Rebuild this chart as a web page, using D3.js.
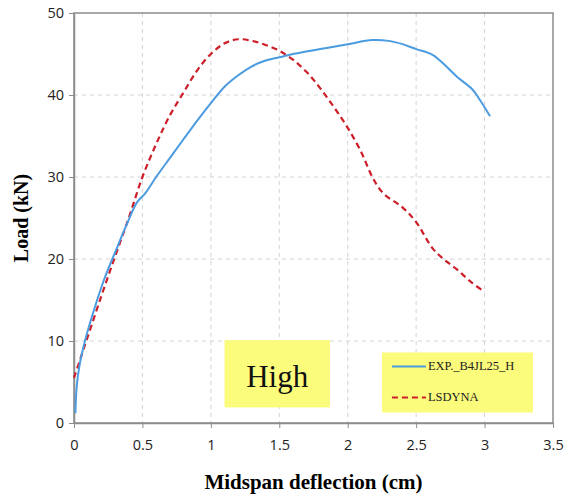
<!DOCTYPE html>
<html>
<head>
<meta charset="utf-8">
<script src="https://cdn.jsdelivr.net/npm/d3@7"></script>
<style>
  body { margin: 0; background: #fff; }
  svg { display: block; }
</style>
</head>
<body>
<div id="chart"></div>
<script>
// experimental curve (deflection cm, load kN)
const expX = [0.01, 0.02, 0.04, 0.08, 0.15, 0.22, 0.3, 0.38, 0.46, 0.52, 0.6, 0.7, 0.8, 0.92, 1.0, 1.1, 1.2, 1.3, 1.4, 1.5, 1.6, 1.8, 2.0, 2.18, 2.3, 2.4, 2.5, 2.62, 2.7, 2.8, 2.91, 2.97, 3.04]
const expY = [1.2, 4.5, 7, 10, 14, 17.5, 20.8, 24, 26.9, 28, 30, 32.3, 34.6, 37.3, 39, 41, 42.4, 43.5, 44.2, 44.6, 45, 45.6, 46.2, 46.7, 46.6, 46.2, 45.6, 44.9, 43.8, 42.2, 40.7, 39.3, 37.4]

// LS-DYNA simulation
const simX = [0, 0.05, 0.1, 0.2, 0.3, 0.4, 0.5, 0.6, 0.7, 0.8, 0.9, 1.0, 1.1, 1.2, 1.3, 1.4, 1.5, 1.6, 1.7, 1.8, 1.9, 2.0, 2.1, 2.18, 2.26, 2.4, 2.5, 2.62, 2.7, 2.8, 2.9, 3.0]
const simY = [5.5, 8, 10.5, 15.5, 20.3, 25, 30, 34, 37.5, 40.3, 43, 45, 46.3, 46.8, 46.6, 46.1, 45.4, 44.3, 42.8, 40.8, 38.5, 36, 33, 30, 28, 26.3, 24.5, 21.3, 20, 18.7, 17.2, 16]

const xTicks = [0, 0.5, 1, 1.5, 2, 2.5, 3, 3.5]
const yTicks = [0, 10, 20, 30, 40, 50]
const seriesNames = ['EXP._B4JL25_H', 'LSDYNA']
const boxLabel = 'High'

const width = 574
const height = 500
const margin = { top: 13, right: 21, bottom: 77, left: 74 }
const w = width - margin.left - margin.right
const h = height - margin.top - margin.bottom

const x = d3.scaleLinear().domain([0, 3.5]).range([0, w])
const y = d3.scaleLinear().domain([0, 50]).range([h, 0])

const svg = d3.select('#chart').append('svg')
  .attr('width', width)
  .attr('height', height)

const g = svg.append('g')
  .attr('transform', 'translate(' + margin.left + ',' + margin.top + ')')

// grid
g.append('g').selectAll('line')
  .data(xTicks.slice(1, -1))
  .enter().append('line')
  .attr('x1', d => x(d)).attr('x2', d => x(d))
  .attr('y1', 0).attr('y2', h)
  .attr('stroke', '#d4d4d4')
  .attr('stroke-dasharray', '4,4')

g.append('g').selectAll('line')
  .data(yTicks.slice(1, -1))
  .enter().append('line')
  .attr('x1', 0).attr('x2', w)
  .attr('y1', d => y(d)).attr('y2', d => y(d))
  .attr('stroke', '#d4d4d4')
  .attr('stroke-dasharray', '4,4')

// frame
g.append('rect')
  .attr('width', w).attr('height', h)
  .attr('fill', 'none')
  .attr('stroke', '#8c8c8c')
  .attr('stroke-width', 1.5)

const tickFont = '"Open Sans", sans-serif'

const xAxis = g.append('g')
  .attr('transform', 'translate(0,' + h + ')')
  .call(d3.axisBottom(x).tickValues(xTicks).tickSize(5).tickSizeOuter(0).tickFormat(d3.format('')))
xAxis.select('.domain').attr('stroke', '#8c8c8c').attr('stroke-width', 1.5)
xAxis.selectAll('.tick line').attr('stroke', '#8c8c8c')
xAxis.selectAll('.tick text')
  .attr('dy', '1.3em')
  .attr('font-family', tickFont).attr('font-size', 14.5).attr('fill', '#222')

const yAxis = g.append('g')
  .call(d3.axisLeft(y).tickValues(yTicks).tickSize(5).tickSizeOuter(0))
yAxis.select('.domain').attr('stroke', '#8c8c8c').attr('stroke-width', 1.5)
yAxis.selectAll('.tick line').attr('stroke', '#8c8c8c')
yAxis.selectAll('.tick text')
  .attr('x', -10)
  .attr('font-family', tickFont).attr('font-size', 14.5).attr('fill', '#222')

// curves
const line = d3.line()
  .x(d => x(d[0]))
  .y(d => y(d[1]))
  .curve(d3.curveCatmullRom.alpha(0.5))

g.append('path')
  .datum(simX.map((v, i) => [v, simY[i]]))
  .attr('d', line)
  .attr('fill', 'none')
  .attr('stroke', '#cc1f2a')
  .attr('stroke-width', 2.2)
  .attr('stroke-dasharray', '6,4')

g.append('path')
  .datum(expX.map((v, i) => [v, expY[i]]))
  .attr('d', line)
  .attr('fill', 'none')
  .attr('stroke', '#4b9be0')
  .attr('stroke-width', 2)

// "High" label box
const hb = { x0: 1.1, x1: 1.87, y0: 10.1, y1: 1.9 }
g.append('rect')
  .attr('x', x(hb.x0)).attr('y', y(hb.y0))
  .attr('width', x(hb.x1) - x(hb.x0))
  .attr('height', y(hb.y1) - y(hb.y0))
  .attr('fill', '#fbfb7c')
g.append('text')
  .attr('x', (x(hb.x0) + x(hb.x1)) / 2)
  .attr('y', y(1.9) - 20)
  .attr('text-anchor', 'middle')
  .attr('font-family', '"Liberation Serif", "Times New Roman", serif')
  .attr('font-size', 31)
  .attr('fill', '#111')
  .text(boxLabel)

// legend
const lg = g.append('g')
  .attr('transform', 'translate(' + x(2.25) + ',' + y(8.6) + ')')
lg.append('rect')
  .attr('width', 151).attr('height', 60)
  .attr('fill', '#fbfb7c')
const legendStyles = [
  { stroke: '#4b9be0', dash: null, width: 1.8, dy: 14 },
  { stroke: '#cc1f2a', dash: '6,4', width: 2, dy: 45 }
]
seriesNames.forEach((name, i) => {
  const s = legendStyles[i]
  lg.append('line')
    .attr('x1', 10).attr('x2', 44)
    .attr('y1', s.dy).attr('y2', s.dy)
    .attr('stroke', s.stroke)
    .attr('stroke-width', s.width)
    .attr('stroke-dasharray', s.dash)
  lg.append('text')
    .attr('x', 46).attr('y', s.dy + 4)
    .attr('font-family', '"Liberation Serif", "Times New Roman", serif')
    .attr('font-size', 12.5)
    .attr('fill', '#222')
    .text(name)
})

// axis titles
svg.append('text')
  .attr('x', margin.left + w / 2)
  .attr('y', 489)
  .attr('text-anchor', 'middle')
  .attr('font-family', '"Liberation Serif", "Times New Roman", serif')
  .attr('font-weight', 'bold')
  .attr('font-size', 21)
  .text('Midspan deflection (cm)')

svg.append('text')
  .attr('transform', 'translate(28,' + (margin.top + h / 2) + ') rotate(-90)')
  .attr('text-anchor', 'middle')
  .attr('font-family', '"Liberation Serif", "Times New Roman", serif')
  .attr('font-weight', 'bold')
  .attr('font-size', 20)
  .text('Load (kN)')
</script>
</body>
</html>
